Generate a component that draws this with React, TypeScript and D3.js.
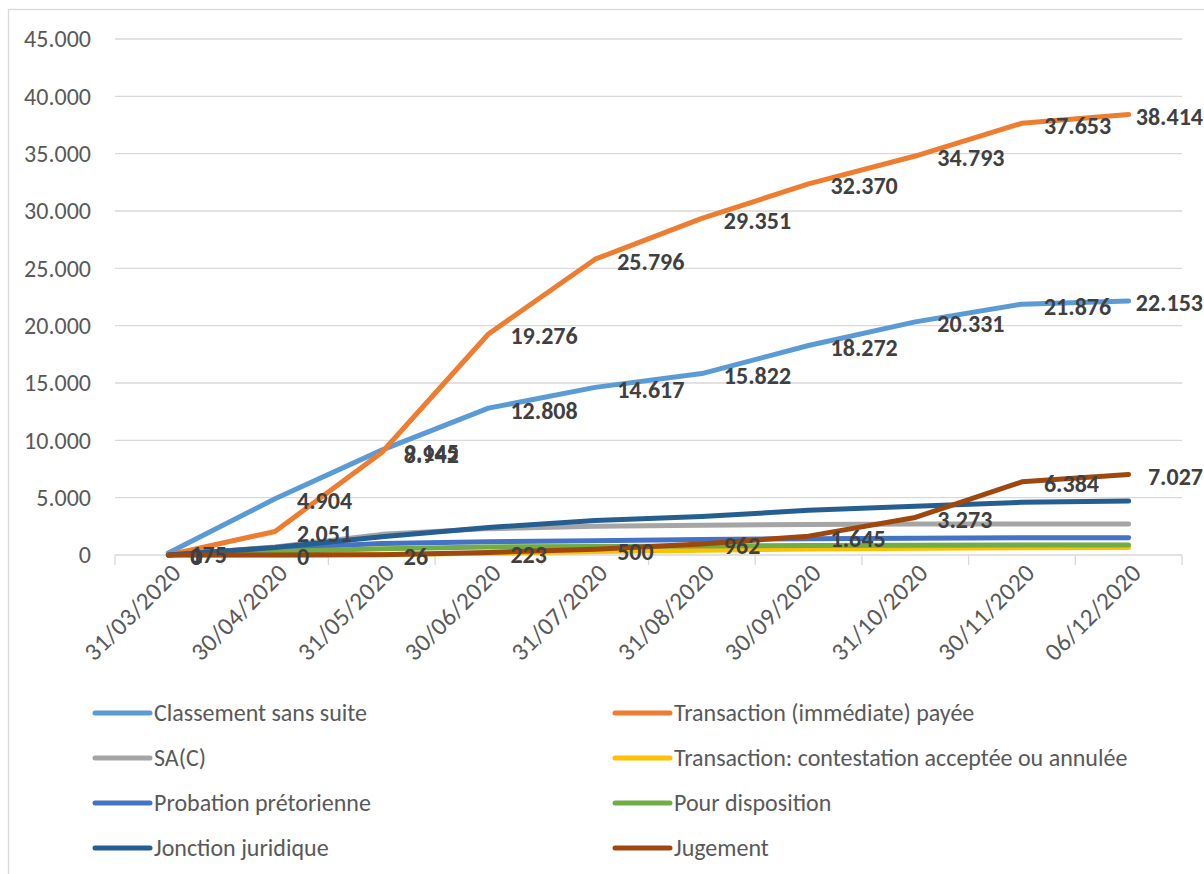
import React, { useEffect, useRef } from "react";
import * as d3 from "d3";

const dates = [
  "31/03/2020", "30/04/2020", "31/05/2020", "30/06/2020", "31/07/2020",
  "31/08/2020", "30/09/2020", "31/10/2020", "30/11/2020", "06/12/2020",
];

const classement = [175, 4904, 9145, 12808, 14617, 15822, 18272, 20331, 21876, 22153];
const transactionPayee = [0, 2051, 8942, 19276, 25796, 29351, 32370, 34793, 37653, 38414];
const sac = [0, 700, 1800, 2300, 2500, 2600, 2650, 2700, 2700, 2700];
const contestation = [0, 0, 50, 150, 300, 420, 520, 590, 630, 650];
const probation = [0, 600, 1000, 1150, 1250, 1350, 1420, 1470, 1500, 1510];
const disposition = [0, 300, 550, 700, 750, 780, 820, 850, 870, 880];
const jonction = [0, 650, 1600, 2400, 3000, 3350, 3900, 4250, 4600, 4700];
const jugement = [0, 0, 26, 223, 500, 962, 1645, 3273, 6384, 7027];

const yTicks = [0, 5000, 10000, 15000, 20000, 25000, 30000, 35000, 40000, 45000];

const series = [
  { name: "Classement sans suite", values: classement, color: "#5b9bd5", labels: true },
  { name: "Transaction (immédiate) payée", values: transactionPayee, color: "#ed7d31", labels: true },
  { name: "SA(C)", values: sac, color: "#a5a5a5", labels: false },
  { name: "Transaction: contestation acceptée ou annulée", values: contestation, color: "#ffc000", labels: false },
  { name: "Probation prétorienne", values: probation, color: "#4472c4", labels: false },
  { name: "Pour disposition", values: disposition, color: "#70ad47", labels: false },
  { name: "Jonction juridique", values: jonction, color: "#255e91", labels: false },
  { name: "Jugement", values: jugement, color: "#9e480e", labels: true },
];

const FONT = "Carlito, Calibri, Lato, sans-serif";

const App = () => {
  const ref = useRef<SVGSVGElement | null>(null);

  useEffect(() => {
    document.body.style.margin = "0";
    const width = 1204;
    const height = 874;
    const left = 115;
    const right = 1182;
    const top = 39;
    const bottom = 555;

    const svg = d3.select(ref.current);
    svg.selectAll("*").remove();

    const fmt = d3.formatLocale({
      decimal: ",",
      thousands: ".",
      grouping: [3],
      currency: ["", "€"],
    }).format(",d");

    const x = d3.scaleBand().domain(dates).range([left, right]);
    const cx = (i: number) => (x(dates[i]) as number) + x.bandwidth() / 2;
    const y = d3.scaleLinear().domain([0, 45000]).range([bottom, top]);

    svg
      .append("rect")
      .attr("x", 8.5)
      .attr("y", 9.5)
      .attr("width", 1220)
      .attr("height", 900)
      .attr("fill", "white")
      .attr("stroke", "#d9d9d9")
      .attr("stroke-width", 1.3);

    // gridlines + y labels
    const g = svg.append("g");
    yTicks.forEach((t) => {
      if (t > 0) {
        g.append("line")
          .attr("x1", left)
          .attr("x2", right)
          .attr("y1", y(t))
          .attr("y2", y(t))
          .attr("stroke", "#d9d9d9")
          .attr("stroke-width", 1.3);
      }
      g.append("text")
        .attr("x", 91)
        .attr("y", y(t))
        .attr("dy", "0.35em")
        .attr("text-anchor", "end")
        .attr("font-family", FONT)
        .attr("font-size", 24)
        .attr("fill", "#595959")
        .text(fmt(t));
    });

    // x axis
    g.append("line")
      .attr("x1", left)
      .attr("x2", right)
      .attr("y1", bottom)
      .attr("y2", bottom)
      .attr("stroke", "#d9d9d9")
      .attr("stroke-width", 1.3);
    const bounds = dates.map((d) => x(d) as number).concat([right]);
    bounds.forEach((b) => {
      g.append("line")
        .attr("x1", b)
        .attr("x2", b)
        .attr("y1", bottom)
        .attr("y2", bottom + 10)
        .attr("stroke", "#d9d9d9")
        .attr("stroke-width", 1.3);
    });
    dates.forEach((d, i) => {
      g.append("text")
        .attr("text-anchor", "end")
        .attr("transform", `translate(${cx(i) + 8},${bottom + 13}) rotate(-45)`)
        .attr("dy", "0.35em")
        .attr("font-family", FONT)
        .attr("font-size", 25)
        .attr("letter-spacing", 0.4)
        .attr("fill", "#595959")
        .text(d);
    });

    // lines
    const line = d3
      .line<number>()
      .x((_, i) => cx(i))
      .y((v) => y(v));
    series.forEach((s) => {
      svg
        .append("path")
        .attr("d", line(s.values))
        .attr("fill", "none")
        .attr("stroke", s.color)
        .attr("stroke-width", 5)
        .attr("stroke-linejoin", "round")
        .attr("stroke-linecap", "round");
    });

    // data labels (right of the point, pulled back inside at the right edge)
    series
      .filter((s) => s.labels)
      .forEach((s) => {
        s.values.forEach((v, i) => {
          const t = svg
            .append("text")
            .attr("x", cx(i) + 22)
            .attr("y", y(v) + 2)
            .attr("dy", "0.35em")
            .attr("font-family", FONT)
            .attr("font-size", 24)
            .attr("font-weight", "bold")
            .attr("fill", "#404040")
            .text(fmt(v));
          const w = (t.node() as SVGTextElement).getComputedTextLength();
          if (cx(i) + 22 + w > width - 1) t.attr("x", width - 1 - w);
        });
      });

    // legend
    const leg = svg.append("g");
    series.forEach((s, i) => {
      const col = i % 2;
      const row = Math.floor(i / 2);
      const lx = col === 0 ? 95 : 615;
      const ly = 713 + row * 45;
      leg
        .append("line")
        .attr("x1", lx)
        .attr("x2", lx + 55)
        .attr("y1", ly)
        .attr("y2", ly)
        .attr("stroke", s.color)
        .attr("stroke-width", 5)
        .attr("stroke-linecap", "round");
      leg
        .append("text")
        .attr("x", lx + 59)
        .attr("y", ly)
        .attr("dy", "0.35em")
        .attr("font-family", FONT)
        .attr("font-size", 24)
        .attr("fill", "#595959")
        .text(s.name);
    });
    svg.attr("width", width).attr("height", height);
  }, []);

  return <svg ref={ref} width={1204} height={874} style={{ display: "block" }}></svg>;
};

export default App;
